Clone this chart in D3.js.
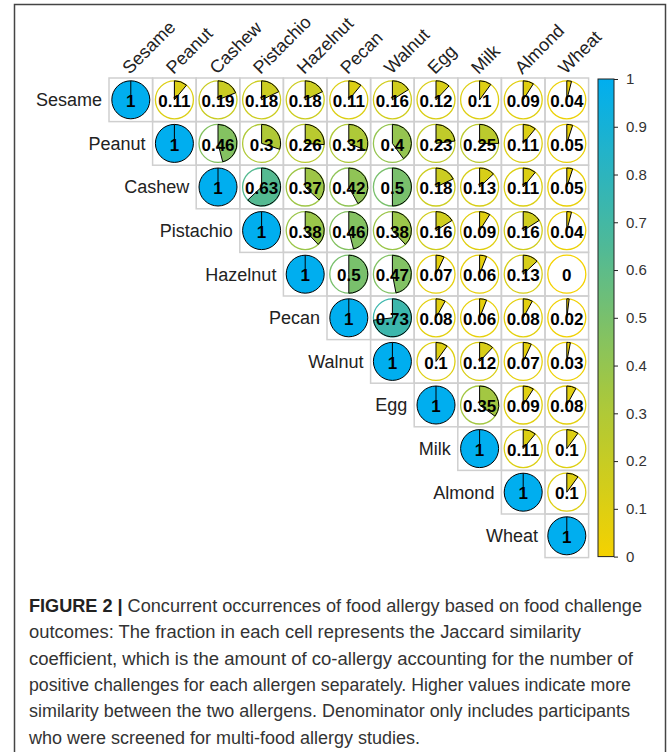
<!DOCTYPE html>
<html>
<head>
<meta charset="utf-8">
<script src="https://cdn.jsdelivr.net/npm/d3@7"></script>
<style>
  body { margin: 0; background: #fff; }
  svg { display: block; font-family: "Liberation Sans", Arial, sans-serif; }
</style>
</head>
<body>
<script>
// allergens, in the order of the matrix
var allergens = ["Sesame", "Peanut", "Cashew", "Pistachio", "Hazelnut", "Pecan",
                 "Walnut", "Egg", "Milk", "Almond", "Wheat"];

// upper triangle of Jaccard coefficients, one array per row starting on the diagonal
var rowSesame    = [1, 0.11, 0.19, 0.18, 0.18, 0.11, 0.16, 0.12, 0.1, 0.09, 0.04];
var rowPeanut    = [1, 0.46, 0.3, 0.26, 0.31, 0.4, 0.23, 0.25, 0.11, 0.05];
var rowCashew    = [1, 0.63, 0.37, 0.42, 0.5, 0.18, 0.13, 0.11, 0.05];
var rowPistachio = [1, 0.38, 0.46, 0.38, 0.16, 0.09, 0.16, 0.04];
var rowHazelnut  = [1, 0.5, 0.47, 0.07, 0.06, 0.13, 0];
var rowPecan     = [1, 0.73, 0.08, 0.06, 0.08, 0.02];
var rowWalnut    = [1, 0.1, 0.12, 0.07, 0.03];
var rowEgg       = [1, 0.35, 0.09, 0.08];
var rowMilk      = [1, 0.11, 0.1];
var rowAlmond    = [1, 0.1];
var rowWheat     = [1];
var rows = [rowSesame, rowPeanut, rowCashew, rowPistachio, rowHazelnut, rowPecan,
            rowWalnut, rowEgg, rowMilk, rowAlmond, rowWheat];

// colour bar ticks
var legendTicks = [0, 0.1, 0.2, 0.3, 0.4, 0.5, 0.6, 0.7, 0.8, 0.9, 1];

// caption lines
var captionBold = "FIGURE 2 | ";
var captionLines = [
  "Concurrent occurrences of food allergy based on food challenge",
  "outcomes: The fraction in each cell represents the Jaccard similarity",
  "coefficient, which is the amount of co-allergy accounting for the number of",
  "positive challenges for each allergen separately. Higher values indicate more",
  "similarity between the two allergens. Denominator only includes participants",
  "who were screened for multi-food allergy studies."
];
var captionWidths = [613, 552, 604, 602, 601, 391];

var width = 669, height = 752;

// flatten into cells
var cells = [];
rows.forEach(function(r, i) {
  r.forEach(function(v, k) {
    cells.push({row: allergens[i], col: allergens[i + k], value: v, diag: k === 0});
  });
});

var svg = d3.select("body").append("svg")
    .attr("width", width)
    .attr("height", height);

// outer frame of the figure
svg.append("rect")
    .attr("x", 14.5).attr("y", 4.5)
    .attr("width", 651).attr("height", 800)
    .attr("fill", "none")
    .attr("stroke", "#444")
    .attr("stroke-width", 1.5);

var x = d3.scaleBand().domain(allergens).range([109, 109 + 11 * 43.6]);
var y = d3.scaleBand().domain(allergens).range([78, 78 + 11 * 43.6]);
var cw = x.bandwidth();
var r = 19;

var color = d3.scaleLinear()
    .domain([0, 0.33, 0.66, 1])
    .range(["#F5D200", "#A9C83C", "#4CB99A", "#00AEEF"])
    .interpolate(d3.interpolateRgb);

// grid
svg.append("g")
    .selectAll("rect")
    .data(cells)
    .enter().append("rect")
    .attr("x", function(d) { return x(d.col); })
    .attr("y", function(d) { return y(d.row); })
    .attr("width", cw)
    .attr("height", cw)
    .attr("fill", "none")
    .attr("stroke", "#cfcfcf")
    .attr("stroke-width", 1.5);

var arc = d3.arc().innerRadius(0).outerRadius(r).startAngle(0);

var cell = svg.append("g")
    .selectAll("g")
    .data(cells)
    .enter().append("g")
    .attr("transform", function(d) {
      return "translate(" + (x(d.col) + cw / 2) + "," + (y(d.row) + cw / 2) + ")";
    });

// outline circle
cell.append("circle")
    .attr("r", r)
    .attr("fill", function(d) { return d.value >= 1 ? color(1) : "white"; })
    .attr("stroke", function(d) { return d.value >= 1 ? "black" : color(d.value); })
    .attr("stroke-width", function(d) { return d.value >= 1 ? 1 : 1.3; });

// pie wedges
cell.filter(function(d) { return d.value > 0 && d.value < 1; })
    .append("path")
    .attr("d", function(d) { return arc({endAngle: d.value * 2 * Math.PI}); })
    .attr("fill", function(d) { return color(d.value); })
    .attr("stroke", "black")
    .attr("stroke-width", 1)
    .attr("stroke-linejoin", "round");

// radial line on full pies
cell.filter(function(d) { return d.value >= 1; })
    .append("line")
    .attr("x1", 0).attr("y1", 0)
    .attr("x2", 0).attr("y2", -r)
    .attr("stroke", "black")
    .attr("stroke-width", 1);

// values
cell.append("text")
    .attr("y", 1)
    .attr("dy", "0.36em")
    .attr("text-anchor", "middle")
    .style("font-size", "17px")
    .style("font-weight", "bold")
    .attr("fill", "black")
    .text(function(d) { return String(d.value); });

// row labels, left of the diagonal
svg.append("g")
    .selectAll("text")
    .data(allergens)
    .enter().append("text")
    .attr("x", function(d) { return x(d) - 7; })
    .attr("y", function(d) { return y(d) + cw / 2; })
    .attr("dy", "0.35em")
    .attr("text-anchor", "end")
    .style("font-size", "18px")
    .attr("fill", "#222")
    .text(function(d) { return d; });

// column labels, rotated
svg.append("g")
    .selectAll("text")
    .data(allergens)
    .enter().append("text")
    .attr("transform", function(d) {
      return "translate(" + (x(d) + cw / 2 - 1) + "," + 75 + ") rotate(-45)";
    })
    .attr("text-anchor", "start")
    .style("font-size", "18px")
    .attr("fill", "#222")
    .text(function(d) { return d; });

// colour bar
var barX = 598, barW = 16;
var yBar = d3.scaleLinear().domain([0, 1]).range([y.range()[1] - 1, y.range()[0] + 1]);

var grad = svg.append("defs").append("linearGradient")
    .attr("id", "cbar")
    .attr("x1", 0).attr("y1", 1)
    .attr("x2", 0).attr("y2", 0);
grad.selectAll("stop")
    .data(d3.range(0, 1.0001, 0.05))
    .enter().append("stop")
    .attr("offset", function(d) { return d; })
    .attr("stop-color", function(d) { return color(d); });

svg.append("rect")
    .attr("x", barX)
    .attr("y", yBar(1))
    .attr("width", barW)
    .attr("height", yBar(0) - yBar(1))
    .attr("fill", "url(#cbar)")
    .attr("stroke", "#222")
    .attr("stroke-width", 1);

var axis = svg.append("g")
    .attr("transform", "translate(" + (barX + barW) + ",0)")
    .call(d3.axisRight(yBar)
            .tickValues(legendTicks)
            .tickSize(4)
            .tickPadding(8)
            .tickFormat(function(d) { return String(+d.toFixed(1)); }));
axis.attr("font-size", 15).attr("font-family", null);
axis.select(".domain").remove();
axis.selectAll("line").attr("stroke", "#222");
axis.selectAll("text")
    .style("font-size", "15px")
    .attr("fill", "#333");

// caption
var cap = svg.append("g");
captionLines.forEach(function(line, i) {
  var t = cap.append("text")
      .attr("x", 29)
      .attr("y", 612 + i * 26.3)
      .attr("textLength", captionWidths[i])
      .attr("lengthAdjust", "spacingAndGlyphs")
      .style("font-size", "17.5px")
      .attr("fill", "#333");
  if (i === 0) {
    t.append("tspan").style("font-weight", "bold").attr("fill", "#222").text(captionBold);
  }
  t.append("tspan").text(line);
});
</script>
</body>
</html>
